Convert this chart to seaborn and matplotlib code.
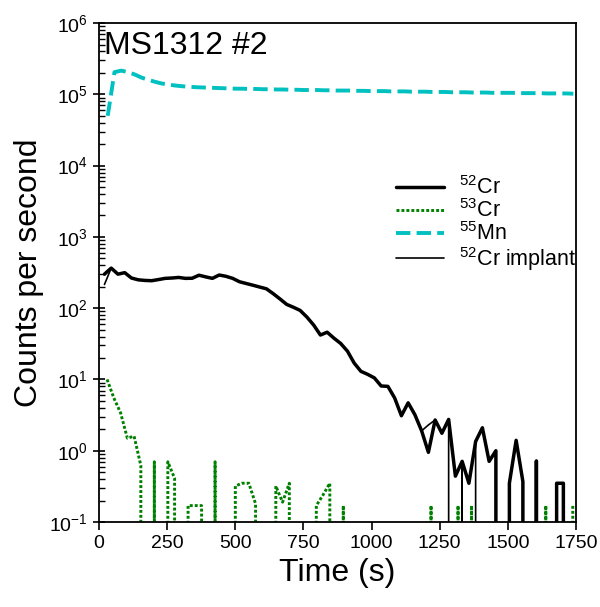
import numpy as np
import seaborn as sns
import matplotlib.pyplot as plt
from matplotlib.ticker import LogLocator, NullFormatter

# acquisition cycle (s) and start time of each isotope
cycle_s = 24.76
t0_cr52 = 20.0
t0_cr53 = 29.7
t0_mn55 = 32.0

cr52 = [300, 365, 300, 315, 265, 250, 245, 243, 252, 262,
        265, 270, 262, 263, 290, 275, 262, 292, 280, 262,
        235, 222, 210, 198, 187, 160, 135, 113, 103, 93,
        75, 58, 42, 46, 38, 32, 25, 17, 13, 11.8,
        10.5, 8.1, 8.0, 5.5, 3.1, 4.7, 3.2, 1.9, 0.95, 2.7,
        1.76, 2.75, 0.44, 0.71, 0.35, 1.35, 2.1, 0.71, 1.0, 0,
        0.35, 1.4, 0.37, 0, 0.72, 0, 0, 0.35, 0.35, 0, 0]

cr52_implant = [215, 365, 300, 315, 265, 250, 245, 243, 252, 262,
                265, 270, 262, 263, 290, 275, 262, 292, 280, 262,
                235, 222, 210, 198, 187, 160, 135, 113, 103, 93,
                75, 58, 42, 46, 38, 32, 25, 17, 13, 11.8,
                10.5, 8.1, 8.0, 5.5, 3.1, 4.7, 3.2, 1.9, 2.3, 2.7,
                1.76, 2.75, 0, 0.71, 0, 1.35, 2.1, 0.71, 1.0, 0,
                0.35, 1.4, 0.37, 0, 0.72, 0, 0, 0.35, 0.35, 0, 0]

cr53 = [10, 5.5, 3.4, 1.5, 1.6, 0.62, 0, 0.70, 0, 0.70,
        0.41, 0, 0.17, 0.17, 0.17, 0, 0.70, 0, 0, 0.32,
        0.35, 0.35, 0.18, 0, 0, 0.32, 0.19, 0.35, 0, 0,
        0, 0.17, 0.24, 0.35, 0, 0.17, 0, 0, 0, 0,
        0, 0, 0, 0, 0, 0, 0, 0, 0.17, 0,
        0, 0, 0.17, 0, 0.17, 0, 0, 0, 0, 0,
        0, 0, 0, 0, 0, 0.17, 0, 0, 0, 0.17]

mn55 = [5.0e4, 2.05e5, 2.15e5, 2.05e5, 1.9e5, 1.72e5, 1.6e5, 1.5e5, 1.42e5, 1.37e5,
        1.33e5, 1.3e5, 1.28e5, 1.26e5, 1.25e5, 1.24e5, 1.23e5, 1.22e5, 1.21e5, 1.2e5,
        1.2e5, 1.19e5, 1.19e5, 1.18e5, 1.18e5, 1.17e5, 1.17e5, 1.16e5, 1.16e5, 1.15e5,
        1.15e5, 1.15e5, 1.14e5, 1.14e5, 1.13e5, 1.13e5, 1.13e5, 1.12e5, 1.12e5, 1.11e5,
        1.11e5, 1.11e5, 1.1e5, 1.1e5, 1.1e5, 1.09e5, 1.09e5, 1.09e5, 1.08e5, 1.08e5,
        1.08e5, 1.07e5, 1.07e5, 1.07e5, 1.06e5, 1.06e5, 1.06e5, 1.05e5, 1.05e5, 1.05e5,
        1.05e5, 1.04e5, 1.04e5, 1.04e5, 1.04e5, 1.03e5, 1.03e5, 1.03e5, 1.03e5, 1.02e5]

t_cr52 = t0_cr52 + cycle_s * np.arange(len(cr52))
t_cr53 = t0_cr53 + cycle_s * np.arange(len(cr53))
t_mn55 = t0_mn55 + cycle_s * np.arange(len(mn55))

sns.set_style("ticks")
plt.rcParams['font.family'] = ['Liberation Sans', 'DejaVu Sans']
plt.rcParams['mathtext.fontset'] = 'custom'
plt.rcParams['mathtext.rm'] = 'Liberation Sans'
plt.rcParams['mathtext.it'] = 'Liberation Sans:italic'
plt.rcParams['mathtext.bf'] = 'Liberation Sans:bold'
for key in ['text.color', 'axes.labelcolor', 'xtick.color', 'ytick.color']:
    plt.rcParams[key] = 'black'

fig, ax = plt.subplots(figsize=(6, 6.07), dpi=100)
fig.subplots_adjust(left=0.165, right=0.96, bottom=0.14, top=0.962)

sns.lineplot(x=t_cr52, y=cr52, ax=ax, color='black', linewidth=2.5,
             estimator=None, errorbar=None, label=r'$^{52}$Cr')
sns.lineplot(x=t_cr53, y=cr53, ax=ax, color='#008000', linewidth=2.1,
             linestyle=(0, (1, 0.7)),
             estimator=None, errorbar=None, label=r'$^{53}$Cr')
sns.lineplot(x=t_mn55, y=mn55, ax=ax, color='#00c0c0', linewidth=2.8, linestyle='--',
             estimator=None, errorbar=None, label=r'$^{55}$Mn')
sns.lineplot(x=t_cr52, y=cr52_implant, ax=ax, color='black', linewidth=1.2,
             estimator=None, errorbar=None, label=r'$^{52}$Cr implant')

ax.set_yscale('log')
ax.set_ylim(0.1, 1e6)
ax.set_xlim(0, 1750)
ax.set_xticks([0, 250, 500, 750, 1000, 1250, 1500, 1750])
ax.yaxis.set_major_locator(LogLocator(base=10, numticks=20))
ax.yaxis.set_minor_locator(LogLocator(base=10, subs=np.arange(2, 10), numticks=100))
ax.yaxis.set_minor_formatter(NullFormatter())

for s in ax.spines.values():
    s.set_visible(True)
    s.set_color('black')
    s.set_linewidth(1.3)

ax.tick_params(axis='x', which='major', direction='out', length=6, width=1.2,
               labelsize=14)
ax.tick_params(axis='y', which='major', direction='inout', length=9, width=1.2,
               labelsize=14)
ax.tick_params(axis='y', which='minor', direction='in', length=4, width=1.0)

ax.set_xlabel('Time (s)', fontsize=23)
ax.set_ylabel('Counts per second', fontsize=23)

ax.text(0.01, 0.985, 'MS1312 #2', transform=ax.transAxes, ha='left', va='top',
        fontsize=23)

ax.legend(loc='upper left', bbox_to_anchor=(0.605, 0.71), frameon=False,
          fontsize=15.5, handlelength=2.2, handletextpad=0.7, labelspacing=0.0,
          borderaxespad=0)

fig.savefig('out.png', dpi=100)
